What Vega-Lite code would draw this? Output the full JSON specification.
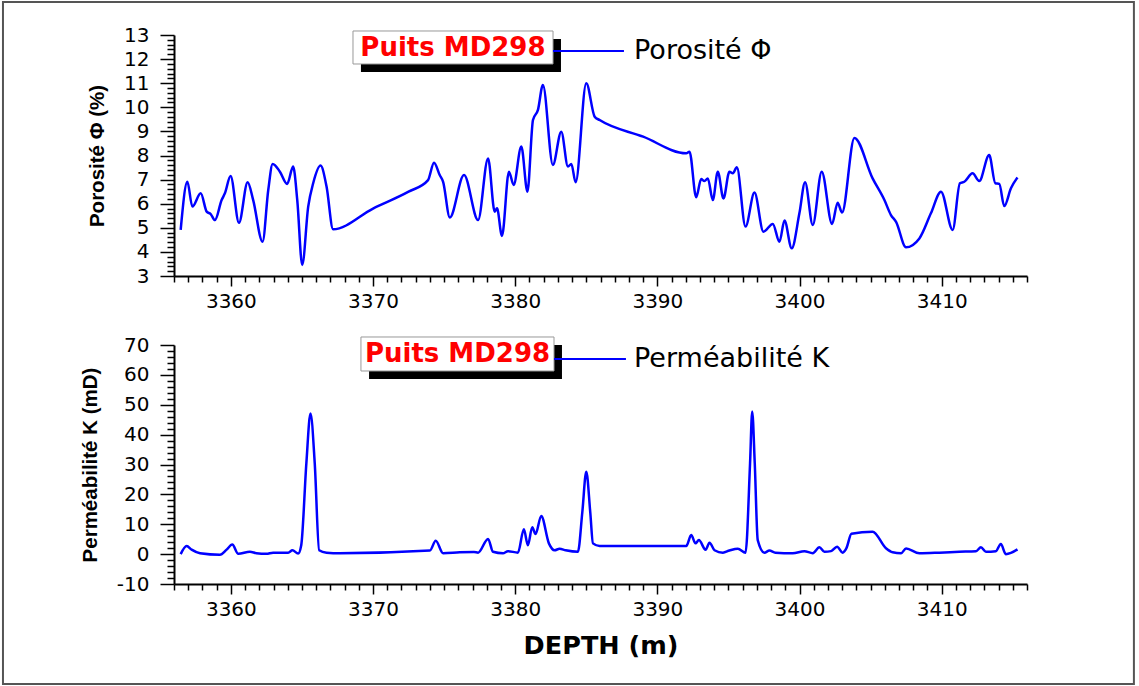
{
  "$schema": "https://vega.github.io/schema/vega-lite/v6.json",
  "background": "white",
  "padding": {"left": 1, "top": 1, "right": 0, "bottom": 0},
  "spacing": 69,
  "bounds": "flush",
  "config": {
    "view": {"stroke": null},
    "axis": {
      "grid": false,
      "domainColor": "black",
      "domainWidth": 2,
      "tickColor": "black",
      "tickWidth": 1.5,
      "tickCount": 500,
      "labelColor": "black",
      "labelFont": "DejaVu Sans",
      "labelOverlap": false,
      "labelFlush": false,
      "labelBound": false,
      "titleColor": "black"
    }
  },
  "datasets": {
    "phi": [
      {"depth": 3356.47, "value": 4.91}, {"depth": 3356.94, "value": 6.91}, {"depth": 3357.29, "value": 5.88},
      {"depth": 3357.88, "value": 6.43}, {"depth": 3358.3, "value": 5.67}, {"depth": 3358.58, "value": 5.57},
      {"depth": 3358.88, "value": 5.32}, {"depth": 3359.35, "value": 6.15}, {"depth": 3359.58, "value": 6.43},
      {"depth": 3359.98, "value": 7.15}, {"depth": 3360.57, "value": 5.21}, {"depth": 3361.18, "value": 6.89},
      {"depth": 3361.57, "value": 6.15}, {"depth": 3362.23, "value": 4.42}, {"depth": 3362.63, "value": 6.57},
      {"depth": 3362.94, "value": 7.65}, {"depth": 3363.45, "value": 7.33}, {"depth": 3363.96, "value": 6.82},
      {"depth": 3364.38, "value": 7.54}, {"depth": 3364.67, "value": 6.15}, {"depth": 3365.02, "value": 3.46},
      {"depth": 3365.44, "value": 5.88}, {"depth": 3365.79, "value": 6.85}, {"depth": 3366.31, "value": 7.58},
      {"depth": 3366.73, "value": 6.71}, {"depth": 3367.19, "value": 4.94}, {"depth": 3370.0, "value": 5.8},
      {"depth": 3372.5, "value": 6.5}, {"depth": 3373.87, "value": 6.98}, {"depth": 3374.29, "value": 7.7},
      {"depth": 3374.69, "value": 7.19}, {"depth": 3374.93, "value": 6.91}, {"depth": 3375.4, "value": 5.43},
      {"depth": 3376.4, "value": 7.19}, {"depth": 3377.39, "value": 5.32}, {"depth": 3378.09, "value": 7.88},
      {"depth": 3378.56, "value": 5.67}, {"depth": 3378.72, "value": 5.81}, {"depth": 3379.07, "value": 4.66},
      {"depth": 3379.56, "value": 7.33}, {"depth": 3379.89, "value": 6.78}, {"depth": 3380.43, "value": 8.37},
      {"depth": 3380.86, "value": 6.5}, {"depth": 3381.25, "value": 9.47}, {"depth": 3381.6, "value": 9.89},
      {"depth": 3381.95, "value": 10.93}, {"depth": 3382.65, "value": 7.61}, {"depth": 3383.24, "value": 8.99},
      {"depth": 3383.71, "value": 7.54}, {"depth": 3383.95, "value": 7.65}, {"depth": 3384.25, "value": 6.89},
      {"depth": 3385.0, "value": 11.0}, {"depth": 3385.59, "value": 9.61}, {"depth": 3385.94, "value": 9.47},
      {"depth": 3389.0, "value": 8.78}, {"depth": 3392.03, "value": 8.09}, {"depth": 3392.26, "value": 8.16},
      {"depth": 3392.73, "value": 6.27}, {"depth": 3393.08, "value": 7.02}, {"depth": 3393.31, "value": 6.94},
      {"depth": 3393.55, "value": 7.05}, {"depth": 3393.9, "value": 6.15}, {"depth": 3394.25, "value": 7.33},
      {"depth": 3394.65, "value": 6.22}, {"depth": 3395.07, "value": 7.33}, {"depth": 3395.31, "value": 7.26},
      {"depth": 3395.59, "value": 7.51}, {"depth": 3396.2, "value": 5.05}, {"depth": 3396.83, "value": 6.46},
      {"depth": 3397.46, "value": 4.84}, {"depth": 3398.12, "value": 5.16}, {"depth": 3398.59, "value": 4.42},
      {"depth": 3398.94, "value": 5.3}, {"depth": 3399.45, "value": 4.15}, {"depth": 3399.99, "value": 5.6},
      {"depth": 3400.39, "value": 6.89}, {"depth": 3400.93, "value": 5.12}, {"depth": 3401.56, "value": 7.33},
      {"depth": 3402.29, "value": 5.16}, {"depth": 3402.68, "value": 6.04}, {"depth": 3402.99, "value": 5.63},
      {"depth": 3403.86, "value": 8.73}, {"depth": 3405.14, "value": 7.05}, {"depth": 3405.97, "value": 6.15},
      {"depth": 3406.43, "value": 5.53}, {"depth": 3406.79, "value": 5.25}, {"depth": 3407.49, "value": 4.19},
      {"depth": 3408.43, "value": 4.56}, {"depth": 3409.24, "value": 5.6}, {"depth": 3409.95, "value": 6.5},
      {"depth": 3410.77, "value": 4.91}, {"depth": 3411.28, "value": 6.85}, {"depth": 3411.59, "value": 6.91},
      {"depth": 3412.17, "value": 7.26}, {"depth": 3412.64, "value": 6.94}, {"depth": 3413.34, "value": 8.02},
      {"depth": 3413.77, "value": 6.85}, {"depth": 3414.05, "value": 6.82}, {"depth": 3414.4, "value": 5.9},
      {"depth": 3414.87, "value": 6.64}, {"depth": 3415.33, "value": 7.09}
    ],
    "k": [
      {"depth": 3356.47, "value": 0}, {"depth": 3356.89, "value": 2.7}, {"depth": 3357.24, "value": 1.5},
      {"depth": 3357.83, "value": 0.3}, {"depth": 3359.23, "value": -0.2}, {"depth": 3359.7, "value": 1.5},
      {"depth": 3360.1, "value": 3.2}, {"depth": 3360.52, "value": 0.1}, {"depth": 3361.34, "value": 0.8},
      {"depth": 3361.8, "value": 0.3}, {"depth": 3362.5, "value": 0.1}, {"depth": 3362.97, "value": 0.5},
      {"depth": 3364.03, "value": 0.5}, {"depth": 3364.33, "value": 1.3}, {"depth": 3364.73, "value": 0.2},
      {"depth": 3364.95, "value": 3}, {"depth": 3365.31, "value": 30.4}, {"depth": 3365.6, "value": 47.1},
      {"depth": 3365.9, "value": 30.4}, {"depth": 3366.21, "value": 1.3}, {"depth": 3366.73, "value": 0.5},
      {"depth": 3367.67, "value": 0.3}, {"depth": 3374.0, "value": 1.2}, {"depth": 3374.41, "value": 4.5},
      {"depth": 3374.93, "value": 0.3}, {"depth": 3376.1, "value": 0.6}, {"depth": 3377.1, "value": 0.7},
      {"depth": 3377.39, "value": 0.5}, {"depth": 3378.09, "value": 5.1}, {"depth": 3378.44, "value": 0.8},
      {"depth": 3379.14, "value": 0.3}, {"depth": 3379.49, "value": 1.0}, {"depth": 3380.19, "value": 0.5},
      {"depth": 3380.61, "value": 8.3}, {"depth": 3380.89, "value": 3.0}, {"depth": 3381.2, "value": 9.0},
      {"depth": 3381.43, "value": 6.7}, {"depth": 3381.83, "value": 12.8}, {"depth": 3382.37, "value": 3.6},
      {"depth": 3382.77, "value": 1.3}, {"depth": 3383.12, "value": 1.8}, {"depth": 3383.55, "value": 1.3},
      {"depth": 3384.41, "value": 0.8}, {"depth": 3384.72, "value": 14}, {"depth": 3385.0, "value": 27.6},
      {"depth": 3385.28, "value": 14}, {"depth": 3385.47, "value": 3.6}, {"depth": 3385.94, "value": 2.7},
      {"depth": 3392.03, "value": 2.7}, {"depth": 3392.38, "value": 6.4}, {"depth": 3392.68, "value": 3.6},
      {"depth": 3392.92, "value": 4.7}, {"depth": 3393.39, "value": 1.5}, {"depth": 3393.67, "value": 3.8},
      {"depth": 3394.02, "value": 1.3}, {"depth": 3394.61, "value": 0.5}, {"depth": 3395.07, "value": 1.2},
      {"depth": 3395.66, "value": 1.8}, {"depth": 3396.2, "value": 0.5}, {"depth": 3396.52, "value": 30.4},
      {"depth": 3396.67, "value": 47.7}, {"depth": 3396.85, "value": 30.4}, {"depth": 3397.06, "value": 4.7},
      {"depth": 3397.53, "value": 0.5}, {"depth": 3397.88, "value": 1.2}, {"depth": 3398.3, "value": 0.5},
      {"depth": 3399.52, "value": 0.3}, {"depth": 3400.34, "value": 1.0}, {"depth": 3400.93, "value": 0.3},
      {"depth": 3401.4, "value": 2.3}, {"depth": 3401.75, "value": 0.8}, {"depth": 3402.22, "value": 1.0},
      {"depth": 3402.64, "value": 2.5}, {"depth": 3403.03, "value": 0.5}, {"depth": 3403.3, "value": 2.0},
      {"depth": 3403.65, "value": 6.8}, {"depth": 3405.14, "value": 7.5}, {"depth": 3406.08, "value": 1.95},
      {"depth": 3406.55, "value": 0.6}, {"depth": 3407.14, "value": 0.3}, {"depth": 3407.49, "value": 1.9},
      {"depth": 3408.43, "value": 0.3}, {"depth": 3409.83, "value": 0.5}, {"depth": 3411.24, "value": 0.8},
      {"depth": 3412.41, "value": 1.0}, {"depth": 3412.76, "value": 2.3}, {"depth": 3413.11, "value": 0.8},
      {"depth": 3413.81, "value": 1.0}, {"depth": 3414.16, "value": 3.4}, {"depth": 3414.51, "value": 0.0},
      {"depth": 3414.87, "value": 0.4}, {"depth": 3415.33, "value": 1.6}
    ]
  },
  "vconcat": [
    {
      "width": 853,
      "height": 241,
      "layer": [
        {
          "data": {"values": [{}]},
          "mark": {"type": "rect", "filled": false, "stroke": "#555555", "strokeWidth": 2},
          "encoding": {
            "x": {"datum": 3343.97, "type": "quantitative", "scale": {"domain": [3356, 3416], "nice": false, "zero": false}},
            "x2": {"datum": 3423.52},
            "y": {"datum": 14.369, "type": "quantitative", "scale": {"domain": [3, 13], "nice": false, "zero": false}},
            "y2": {"datum": -13.929}
          }
        },
        {
          "data": {"name": "phi"},
          "mark": {"type": "line", "color": "#0000ff", "strokeWidth": 2.5, "interpolate": "monotone"},
          "encoding": {
            "x": {
              "field": "depth", "type": "quantitative",
              "scale": {"domain": [3356, 3416], "nice": false, "zero": false},
              "axis": {
                "title": null,
                "tickCount": 500,
                "values": [3356,3357,3358,3359,3360,3361,3362,3363,3364,3365,3366,3367,3368,3369,3370,3371,3372,3373,3374,3375,3376,3377,3378,3379,3380,3381,3382,3383,3384,3385,3386,3387,3388,3389,3390,3391,3392,3393,3394,3395,3396,3397,3398,3399,3400,3401,3402,3403,3404,3405,3406,3407,3408,3409,3410,3411,3412,3413,3414,3415,3416],
                "tickSize": {"condition": {"test": "datum.value % 10 === 0", "value": 10}, "value": 6},
                "labelExpr": "datum.value % 10 === 0 ? toString(datum.value) : ''",
                "labelFontSize": 20,
                "labelPadding": 5
              }
            },
            "y": {
              "field": "value", "type": "quantitative",
              "scale": {"domain": [3, 13], "nice": false, "zero": false},
              "axis": {
                "title": "Porosité Φ (%)",
                "titleFont": "Liberation Sans",
                "titleFontWeight": "bold",
                "titleFontSize": 20.5,
                "titleX": -67,
                "tickCount": 500,
                "values": [3,3.2,3.4,3.6,3.8,4,4.2,4.4,4.6,4.8,5,5.2,5.4,5.6,5.8,6,6.2,6.4,6.6,6.8,7,7.2,7.4,7.6,7.8,8,8.2,8.4,8.6,8.8,9,9.2,9.4,9.6,9.8,10,10.2,10.4,10.6,10.8,11,11.2,11.4,11.6,11.8,12,12.2,12.4,12.6,12.8,13],
                "tickSize": {"condition": {"test": "datum.value % 1 === 0", "value": 14}, "value": 7},
                "labelExpr": "datum.value % 1 === 0 ? toString(datum.value) : ''",
                "labelFontSize": 20,
                "labelPadding": 11
              }
            }
          }
        },
        {
          "data": {"values": [{}]},
          "mark": {"type": "rect", "color": "black"},
          "encoding": {
            "x": {"datum": 3369.15, "type": "quantitative", "scale": {"domain": [3356, 3416], "nice": false, "zero": false}},
            "x2": {"datum": 3383.22},
            "y": {"datum": 12.834, "type": "quantitative", "scale": {"domain": [3, 13], "nice": false, "zero": false}},
            "y2": {"datum": 11.465}
          }
        },
        {
          "data": {"values": [{}]},
          "mark": {"type": "rect", "fill": "white", "stroke": "#999999", "strokeWidth": 1},
          "encoding": {
            "x": {"datum": 3368.59, "type": "quantitative", "scale": {"domain": [3356, 3416], "nice": false, "zero": false}},
            "x2": {"datum": 3382.66},
            "y": {"datum": 13.166, "type": "quantitative", "scale": {"domain": [3, 13], "nice": false, "zero": false}},
            "y2": {"datum": 11.797}
          }
        },
        {
          "data": {"values": [{"label": "Puits MD298"}]},
          "mark": {"type": "text", "color": "#ff0000", "font": "DejaVu Sans", "fontWeight": "bold", "fontSize": 26, "align": "center", "baseline": "middle"},
          "encoding": {
            "x": {"datum": 3375.62, "type": "quantitative", "scale": {"domain": [3356, 3416], "nice": false, "zero": false}},
            "y": {"datum": 12.48, "type": "quantitative", "scale": {"domain": [3, 13], "nice": false, "zero": false}},
            "text": {"field": "label"}
          }
        },
        {
          "data": {"values": [{}]},
          "mark": {"type": "rule", "color": "#0000ff", "strokeWidth": 2},
          "encoding": {
            "x": {"datum": 3382.66, "type": "quantitative", "scale": {"domain": [3356, 3416], "nice": false, "zero": false}},
            "x2": {"datum": 3387.65},
            "y": {"datum": 12.34, "type": "quantitative", "scale": {"domain": [3, 13], "nice": false, "zero": false}}
          }
        },
        {
          "data": {"values": [{"label": "Porosité Φ"}]},
          "mark": {"type": "text", "color": "black", "font": "DejaVu Sans", "fontSize": 27, "align": "left", "baseline": "middle"},
          "encoding": {
            "x": {"datum": 3388.36, "type": "quantitative", "scale": {"domain": [3356, 3416], "nice": false, "zero": false}},
            "y": {"datum": 12.34, "type": "quantitative", "scale": {"domain": [3, 13], "nice": false, "zero": false}},
            "text": {"field": "label"}
          }
        }
      ]
    },
    {
      "width": 853,
      "height": 239,
      "layer": [
        {
          "data": {"name": "k"},
          "mark": {"type": "line", "color": "#0000ff", "strokeWidth": 2.5, "interpolate": "monotone"},
          "encoding": {
            "x": {
              "field": "depth", "type": "quantitative",
              "scale": {"domain": [3356, 3416], "nice": false, "zero": false},
              "axis": {
                "title": "DEPTH (m)",
                "titleFont": "DejaVu Sans",
                "titleFontWeight": "bold",
                "titleFontSize": 25.5,
                "titleY": 49,
                "tickCount": 500,
                "values": [3356,3357,3358,3359,3360,3361,3362,3363,3364,3365,3366,3367,3368,3369,3370,3371,3372,3373,3374,3375,3376,3377,3378,3379,3380,3381,3382,3383,3384,3385,3386,3387,3388,3389,3390,3391,3392,3393,3394,3395,3396,3397,3398,3399,3400,3401,3402,3403,3404,3405,3406,3407,3408,3409,3410,3411,3412,3413,3414,3415,3416],
                "tickSize": {"condition": {"test": "datum.value % 10 === 0", "value": 10}, "value": 6},
                "labelExpr": "datum.value % 10 === 0 ? toString(datum.value) : ''",
                "labelFontSize": 20,
                "labelPadding": 5
              }
            },
            "y": {
              "field": "value", "type": "quantitative",
              "scale": {"domain": [-10, 70], "nice": false, "zero": false},
              "axis": {
                "title": "Perméabilité K (mD)",
                "titleFont": "Liberation Sans",
                "titleFontWeight": "bold",
                "titleFontSize": 20.5,
                "titleX": -74,
                "tickCount": 500,
                "values": [-10,-8,-6,-4,-2,0,2,4,6,8,10,12,14,16,18,20,22,24,26,28,30,32,34,36,38,40,42,44,46,48,50,52,54,56,58,60,62,64,66,68,70],
                "tickSize": {"condition": {"test": "datum.value % 10 === 0", "value": 14}, "value": 7},
                "labelExpr": "datum.value % 10 === 0 ? toString(datum.value) : ''",
                "labelFontSize": 20,
                "labelPadding": 11
              }
            }
          }
        },
        {
          "data": {"values": [{}]},
          "mark": {"type": "rect", "color": "black"},
          "encoding": {
            "x": {"datum": 3369.72, "type": "quantitative", "scale": {"domain": [3356, 3416], "nice": false, "zero": false}},
            "x2": {"datum": 3383.29},
            "y": {"datum": 70.0, "type": "quantitative", "scale": {"domain": [-10, 70], "nice": false, "zero": false}},
            "y2": {"datum": 58.62}
          }
        },
        {
          "data": {"values": [{}]},
          "mark": {"type": "rect", "fill": "white", "stroke": "#999999", "strokeWidth": 1},
          "encoding": {
            "x": {"datum": 3369.15, "type": "quantitative", "scale": {"domain": [3356, 3416], "nice": false, "zero": false}},
            "x2": {"datum": 3382.73},
            "y": {"datum": 72.68, "type": "quantitative", "scale": {"domain": [-10, 70], "nice": false, "zero": false}},
            "y2": {"datum": 61.3}
          }
        },
        {
          "data": {"values": [{"label": "Puits MD298"}]},
          "mark": {"type": "text", "color": "#ff0000", "font": "DejaVu Sans", "fontWeight": "bold", "fontSize": 26, "align": "center", "baseline": "middle"},
          "encoding": {
            "x": {"datum": 3375.94, "type": "quantitative", "scale": {"domain": [3356, 3416], "nice": false, "zero": false}},
            "y": {"datum": 66.99, "type": "quantitative", "scale": {"domain": [-10, 70], "nice": false, "zero": false}},
            "text": {"field": "label"}
          }
        },
        {
          "data": {"values": [{}]},
          "mark": {"type": "rule", "color": "#0000ff", "strokeWidth": 2},
          "encoding": {
            "x": {"datum": 3382.73, "type": "quantitative", "scale": {"domain": [3356, 3416], "nice": false, "zero": false}},
            "x2": {"datum": 3387.79},
            "y": {"datum": 65.31, "type": "quantitative", "scale": {"domain": [-10, 70], "nice": false, "zero": false}}
          }
        },
        {
          "data": {"values": [{"label": "Perméabilité K"}]},
          "mark": {"type": "text", "color": "black", "font": "DejaVu Sans", "fontSize": 27, "align": "left", "baseline": "middle"},
          "encoding": {
            "x": {"datum": 3388.36, "type": "quantitative", "scale": {"domain": [3356, 3416], "nice": false, "zero": false}},
            "y": {"datum": 65.31, "type": "quantitative", "scale": {"domain": [-10, 70], "nice": false, "zero": false}},
            "text": {"field": "label"}
          }
        }
      ]
    }
  ]
}
